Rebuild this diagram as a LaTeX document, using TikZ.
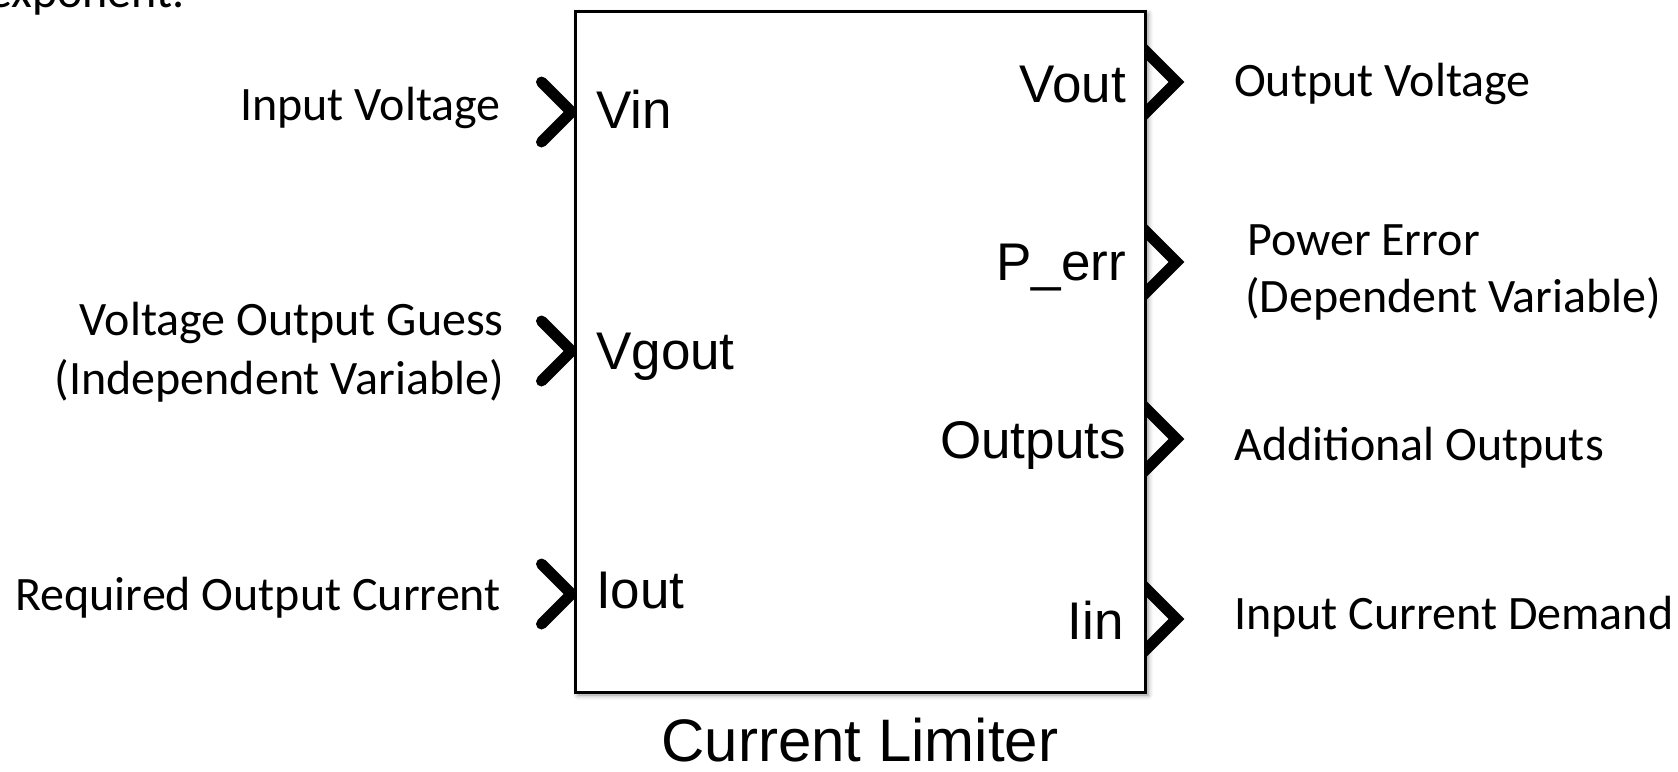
\documentclass[tikz,border=0pt]{standalone}
\usepackage{fontspec}
\setmainfont{Carlito}
\newfontfamily\blockfont{Liberation Sans}
\usetikzlibrary{positioning,calc,shadows.blur,backgrounds}

\begin{document}
\begin{tikzpicture}[x=1pt, y=-1pt,
  block/.style={rectangle, draw, line width=3pt, fill=white, minimum width=570pt, minimum height=681pt,
    blur shadow={shadow xshift=3pt, shadow yshift=-3pt, shadow blur radius=5pt, shadow opacity=45}},
  port/.style={line width=11pt, line join=miter},
  portlbl/.style={font=\blockfont\fontsize{53}{60}\selectfont, inner sep=0pt},
  sig/.style={font=\fontsize{48}{53}\selectfont, inner sep=0pt}
]
  \useasboundingbox (0,0) rectangle (1678,771);
  % leftover of the text above
  \node[sig, anchor=base west] (prev) at (-12,8) {exponent.};

  % the block
  \node[block] (lim) at (860,351.5) {};
  \node[font=\blockfont\fontsize{60}{70}\selectfont, anchor=base, inner sep=0pt, text depth=0pt] (title) at (lim.south |- 0,761) {Current Limiter};

  % ports
  \coordinate (pVin)   at (lim.west |- 0,112);
  \coordinate (pVgout) at (lim.west |- 0,351);
  \coordinate (pIout)  at (lim.west |- 0,594);
  \coordinate (pVout)  at (lim.east |- 0,82);
  \coordinate (pPerr)  at (lim.east |- 0,262);
  \coordinate (pOuts)  at (lim.east |- 0,439);
  \coordinate (pIin)   at (lim.east |- 0,619);
  \begin{scope}[on background layer]
    \foreach \p in {pVin,pVgout,pIout}
      \draw[port, line cap=round] ([shift={(-32,-30)}]\p) -- ([shift={(-2,0)}]\p) -- ([shift={(-32,30)}]\p);
    \foreach \p in {pVout,pPerr,pOuts,pIin}
      \draw[port] ([shift={(-6,-36)}]\p) -- ([shift={(30,0)}]\p) -- ([shift={(-6,36)}]\p);
  \end{scope}

  \node[portlbl, anchor=base west] (vin)   at (596,128) {Vin};
  \node[portlbl, anchor=base west] (vgout) at (596,369) {Vgout};
  \node[portlbl, anchor=base west] (iout)  at (596,608) {Iout};
  \node[portlbl, anchor=base east] (vout)  at (1126,102) {Vout};
  \node[portlbl, anchor=base east] (perr)  at (1126,280) {P\_err};
  \node[portlbl, anchor=base east] (outs)  at (1126,458) {Outputs};
  \node[portlbl, anchor=base east] (iin)   at (1124,639) {Iin};

  % signal names
  \node[sig, anchor=base east] (lVin) at (501,120) {Input Voltage};
  \node[sig, anchor=east, align=right, font=\fontsize{48}{59}\selectfont] (lVgout) at (504,352) {Voltage Output Guess\\(Independent Variable)};
  \node[sig, anchor=base east] (lIout) at (501,610) {Required Output Current};
  \node[sig, anchor=base west] (lVout) at (1234,96) {Output Voltage};
  \node[sig, anchor=west, align=left, font=\fontsize{48}{57}\selectfont] (lPerr) at (1245,272) {\hspace{2pt}Power Error\\(Dependent Variable)};
  \node[sig, anchor=base west] (lOuts) at (1234,460) {Additional Outputs};
  \node[sig, anchor=base west] (lIin) at (1234,629) {Input Current Demand};
\end{tikzpicture}
\end{document}
